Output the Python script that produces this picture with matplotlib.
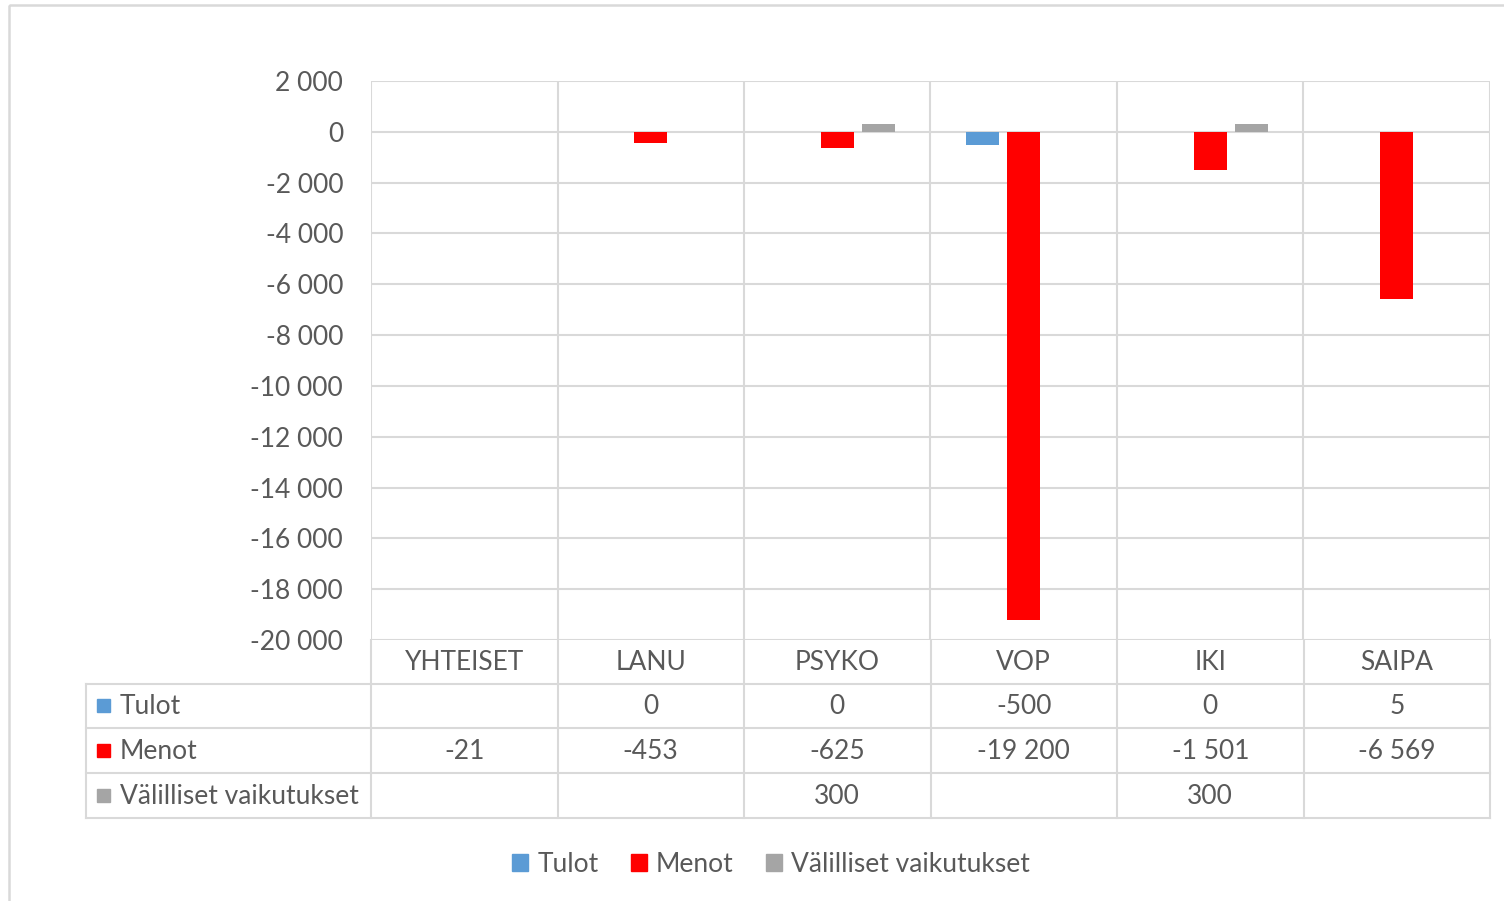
import numpy as np
import matplotlib.pyplot as plt
from matplotlib.patches import Patch, Rectangle

plt.rcParams['font.family'] = ['Lato', 'DejaVu Sans']

# Data
categories = ['YHTEISET', 'LANU', 'PSYKO', 'VOP', 'IKI', 'SAIPA']
series_names = ['Tulot', 'Menot', 'Välilliset vaikutukset']
tulot = [np.nan, 0, 0, -500, 0, 5]
menot = [-21, -453, -625, -19200, -1501, -6569]
valilliset = [np.nan, np.nan, 300, np.nan, 300, np.nan]
yticks = list(range(-20000, 2001, 2000))

colors = ['#5B9BD5', '#FF0000', '#A5A5A5']
txt = '#595959'
grid = '#D9D9D9'
fs = 19


def fmt(v):
    if v is None or (isinstance(v, float) and np.isnan(v)):
        return ''
    return f'{v:,.0f}'.replace(',', ' ')


W, H = 1504, 901
fig = plt.figure(figsize=(W / 100, H / 100), dpi=100)

# plot area in pixels
L, R, T, B = 371, 1490, 81, 640
ax = fig.add_axes([L / W, 1 - B / H, (R - L) / W, (B - T) / H])

x = np.arange(len(categories))
bw = 0.175
off = 0.22
for vals, dx, c in zip([tulot, menot, valilliset], [-off, 0, off], colors):
    ax.bar(x + dx, vals, width=bw, color=c, zorder=3)

ax.set_xlim(-0.5, len(categories) - 0.5)
ax.set_ylim(-20000, 2000)
ax.set_yticks(yticks)
ax.set_yticklabels([fmt(v) for v in yticks], color=txt, fontsize=fs)
ax.tick_params(axis='y', length=0, pad=20)
ax.set_xticks([])
ax.grid(axis='y', color=grid, linewidth=1.5, zorder=0)
for s in ax.spines.values():
    s.set_visible(False)
for i in range(len(categories) + 1):
    ax.axvline(i - 0.5, color=grid, linewidth=1.5, zorder=0)

# overlay in pixel coordinates for table and border
ov = fig.add_axes([0, 0, 1, 1], zorder=-1)
ov.set_xlim(0, W)
ov.set_ylim(H, 0)
ov.axis('off')
ov.add_patch(Rectangle((9, 5), W, H, fill=False, edgecolor=grid, linewidth=1.8))

colw = (R - L) / len(categories)
row_y = [640, 684, 728, 773, 818]
lab_x = 86
lw = 1.5
for yy in row_y[1:]:
    ov.plot([lab_x, R], [yy, yy], color=grid, lw=lw)
ov.plot([lab_x, lab_x], [row_y[1], row_y[-1]], color=grid, lw=lw)
for i in range(len(categories) + 1):
    ov.plot([L + i * colw] * 2, [row_y[0], row_y[-1]], color=grid, lw=lw)

# header
for i, c in enumerate(categories):
    ov.text(L + (i + 0.5) * colw, (row_y[0] + row_y[1]) / 2 + 1, c,
            ha='center', va='center', color=txt, fontsize=fs)
# rows
for r, (name, vals, c) in enumerate(zip(series_names, [tulot, menot, valilliset], colors)):
    yc = (row_y[r + 1] + row_y[r + 2]) / 2
    ov.add_patch(Rectangle((97, yc - 7), 13, 13, color=c))
    ov.text(120, yc + 1, name, ha='left', va='center', color=txt, fontsize=fs)
    for i, v in enumerate(vals):
        ov.text(L + (i + 0.5) * colw, yc + 1, fmt(v), ha='center', va='center',
                color=txt, fontsize=fs)

# legend
handles = [Patch(color=c, label=n) for c, n in zip(colors, series_names)]
fig.legend(handles=handles, loc='center', bbox_to_anchor=(771 / W, 1 - 864 / H),
           ncol=3, frameon=False, fontsize=fs, labelcolor=txt,
           handlelength=0.62, handleheight=0.62, handletextpad=0.35,
           columnspacing=1.2)

fig.savefig('out.png', dpi=100, facecolor='white')
